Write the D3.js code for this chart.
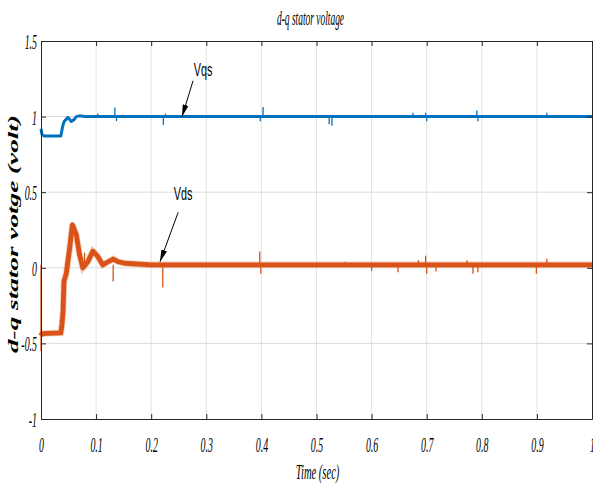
<!DOCTYPE html>
<html>
<head>
<meta charset="utf-8">
<script src="https://cdn.jsdelivr.net/npm/d3@7"></script>
<style>
  body { margin: 0; background: #fff; }
  svg { display: block; }
</style>
</head>
<body>
<div id="chart"></div>
<script>
// data
var vqsTime  = [0, 0.002, 0.006, 0.036, 0.039, 0.042, 0.049, 0.055, 0.060, 0.064, 0.070, 0.08, 1.0];
var vqsValue = [0.92, 0.88, 0.872, 0.872, 0.93, 0.968, 0.995, 0.968, 0.98, 1.0, 1.005, 1.0, 1.0];

var vdsTime  = [0, 0.002, 0.036, 0.038, 0.040, 0.0417, 0.046, 0.052, 0.057, 0.064, 0.070, 0.076,
                0.085, 0.094, 0.103, 0.112, 0.122, 0.131, 0.140, 0.152, 0.2, 1.0];
var vdsValue = [-0.45, -0.435, -0.43, -0.377, -0.29, -0.09, -0.035, 0.13, 0.285, 0.22, 0.085, 0.0,
                0.04, 0.11, 0.075, 0.02, 0.04, 0.058, 0.04, 0.03, 0.02, 0.02];

// short spikes on the traces: time and tip value
var vqsSpikeTime  = [0.103, 0.134, 0.137, 0.222, 0.226, 0.403, 0.398, 0.523, 0.528, 0.675, 0.698, 0.700, 0.791, 0.793, 0.918];
var vqsSpikeValue = [1.02, 1.06, 0.97, 0.945, 1.02, 1.063, 0.97, 0.95, 0.94, 1.025, 1.025, 0.97, 1.04, 0.97, 1.025];

var vdsSpikeTime  = [0.0, 0.079, 0.131, 0.221, 0.397, 0.399, 0.552, 0.600, 0.648, 0.685, 0.698, 0.700,
                     0.717, 0.773, 0.784, 0.793, 0.899, 0.918];
var vdsSpikeValue = [-0.55, 0.1, -0.09, -0.13, 0.108, -0.04, 0.04, -0.02, -0.03, 0.05, 0.08, -0.04,
                     -0.025, 0.05, -0.04, -0.03, -0.04, 0.06];

var xTicks = [0, 0.1, 0.2, 0.3, 0.4, 0.5, 0.6, 0.7, 0.8, 0.9, 1];
var xTickLabels = ["0", "0.1", "0.2", "0.3", "0.4", "0.5", "0.6", "0.7", "0.8", "0.9", "1"];
var yTicks = [-1, -0.5, 0, 0.5, 1, 1.5];
var yTickLabels = ["-1", "-0.5", "0", "0.5", "1", "1.5"];

var w = 593, h = 492;
var padL = 41, padR = 592, padT = 41, padB = 419;
var serif = "'Liberation Serif', 'Times New Roman', serif";
var squeeze = 0.45;

var xScale = d3.scaleLinear().domain([0, 1]).range([padL, padR]);
var yScale = d3.scaleLinear().domain([-1, 1.5]).range([padB, padT]);

var svg = d3.select("#chart").append("svg")
  .attr("width", w)
  .attr("height", h);

// grid
svg.append("g").selectAll("line")
  .data(xTicks.slice(1, -1)).enter().append("line")
  .attr("x1", d => xScale(d)).attr("x2", d => xScale(d))
  .attr("y1", padT).attr("y2", padB)
  .attr("stroke", "#e3e3e3").attr("stroke-width", 1);
svg.append("g").selectAll("line")
  .data(yTicks.slice(1, -1)).enter().append("line")
  .attr("x1", padL).attr("x2", padR)
  .attr("y1", d => yScale(d)).attr("y2", d => yScale(d))
  .attr("stroke", "#dcdcdc").attr("stroke-width", 1);

// traces
var line = d3.line().x(d => xScale(d[0])).y(d => yScale(d[1]));
var vqs = d3.zip(vqsTime, vqsValue);
var vds = d3.zip(vdsTime, vdsValue);
var blue = "#0072BD", orange = "#D95319";

function spikes(times, tips, base, color, width) {
  svg.append("g").selectAll("line")
    .data(d3.zip(times, tips)).enter().append("line")
    .attr("x1", d => xScale(d[0])).attr("x2", d => xScale(d[0]))
    .attr("y1", yScale(base)).attr("y2", d => yScale(d[1]))
    .attr("stroke", color).attr("stroke-width", width);
}

spikes(vdsSpikeTime, vdsSpikeValue, vdsValue[vdsValue.length - 1], orange, 1.3);
svg.append("path").datum(vds)
  .attr("d", line).attr("fill", "none")
  .attr("stroke", orange).attr("stroke-opacity", 0.3).attr("stroke-width", 6.5);
svg.append("path").datum(vds)
  .attr("d", line).attr("fill", "none")
  .attr("stroke", orange).attr("stroke-width", 4.8).attr("stroke-linejoin", "round");

spikes(vqsSpikeTime, vqsSpikeValue, vqsValue[vqsValue.length - 1], blue, 1.3);
svg.append("path").datum(vqs)
  .attr("d", line).attr("fill", "none")
  .attr("stroke", blue).attr("stroke-width", 3).attr("stroke-linejoin", "round");

// box and ticks (inside, all four sides)
var axisColor = "#262626";
function styleAxis(g) {
  g.select(".domain").attr("stroke", axisColor);
  g.selectAll(".tick line").attr("stroke", axisColor);
}
svg.append("g").attr("transform", "translate(0," + padB + ")")
  .call(d3.axisBottom(xScale).tickValues(xTicks).tickSizeInner(-5).tickSizeOuter(0).tickFormat((d, i) => xTickLabels[i]))
  .call(styleAxis)
  .call(g => g.selectAll("text")
    .attr("transform", "scale(" + squeeze + ",1)")
    .attr("y", 17).attr("dy", "0.71em")
    .attr("font-family", serif).attr("font-style", "italic").attr("font-size", 22).attr("fill", "#000"));
svg.append("g").attr("transform", "translate(0," + padT + ")")
  .call(d3.axisTop(xScale).tickValues(xTicks).tickSizeInner(-5).tickSizeOuter(0).tickFormat(""))
  .call(styleAxis);
svg.append("g").attr("transform", "translate(" + padL + ",0)")
  .call(d3.axisLeft(yScale).tickValues(yTicks).tickSizeInner(-5).tickSizeOuter(0).tickFormat((d, i) => yTickLabels[i]))
  .call(styleAxis)
  .call(g => g.selectAll("text")
    .attr("transform", "scale(" + squeeze + ",1)")
    .attr("x", -4 / squeeze).attr("dy", "0.34em")
    .attr("font-family", serif).attr("font-style", "italic").attr("font-size", 22).attr("fill", "#000"));
svg.append("g").attr("transform", "translate(" + padR + ",0)")
  .call(d3.axisRight(yScale).tickValues(yTicks).tickSizeInner(-5).tickSizeOuter(0).tickFormat(""))
  .call(styleAxis);

// titles
function squeezedText(x, y, str, size, sx, opts) {
  return svg.append("text")
    .attr("transform", "translate(" + x + "," + y + ") scale(" + sx + ",1)")
    .attr("text-anchor", "middle")
    .attr("font-family", opts.family || serif)
    .attr("font-style", opts.style || "normal")
    .attr("font-weight", opts.weight || "normal")
    .attr("font-size", size)
    .attr("fill", "#000")
    .text(str);
}
squeezedText((padL + padR) / 2 - 6, 25, "d-q stator voltage", 21, 0.45, { style: "italic" });
squeezedText((padL + padR) / 2 + 1, 479, "Time (sec)", 22, 0.48, { style: "italic" });

svg.append("text")
  .attr("transform", "translate(18," + ((padT + padB) / 2 + 4) + ") rotate(-90)")
  .attr("text-anchor", "middle")
  .attr("font-family", serif).attr("font-style", "italic").attr("font-weight", "bold")
  .attr("font-size", 15)
  .attr("textLength", 238).attr("lengthAdjust", "spacingAndGlyphs")
  .attr("fill", "#000")
  .text("d-q stator votge (volt)");

// annotations with arrows
var sans = "'Liberation Sans', Arial, sans-serif";
svg.append("defs").append("marker")
  .attr("id", "head").attr("viewBox", "0 0 12 6")
  .attr("refX", 12).attr("refY", 3)
  .attr("markerWidth", 12).attr("markerHeight", 6)
  .attr("markerUnits", "userSpaceOnUse")
  .attr("orient", "auto")
  .append("path").attr("d", "M0,0 L12,3 L0,6 Z").attr("fill", "#000");

var labels = ["Vqs", "Vds"];
var labelAt = [[0.294, 1.268], [0.258, 0.448]];
var arrowFrom = [[0.276, 1.237], [0.249, 0.367]];
var arrowTo = [[0.256, 1.0], [0.216, 0.04]];

labels.forEach(function (s, i) {
  squeezedText(xScale(labelAt[i][0]), yScale(labelAt[i][1]), s, 18, 0.6, { family: sans });
  svg.append("line")
    .attr("x1", xScale(arrowFrom[i][0])).attr("y1", yScale(arrowFrom[i][1]))
    .attr("x2", xScale(arrowTo[i][0])).attr("y2", yScale(arrowTo[i][1]))
    .attr("stroke", "#000").attr("stroke-width", 1)
    .attr("marker-end", "url(#head)");
});
</script>
</body>
</html>
